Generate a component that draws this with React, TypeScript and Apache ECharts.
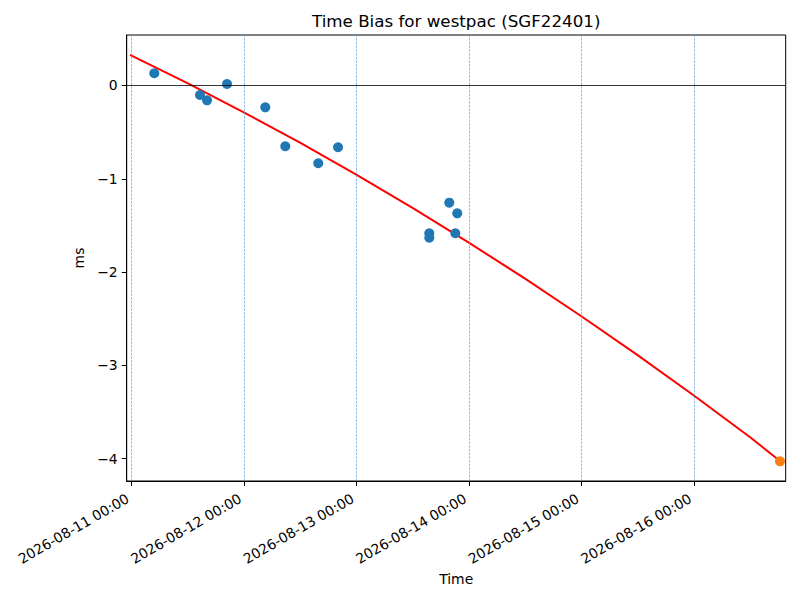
import React, { useEffect, useRef } from "react";
import * as echarts from "echarts";

// Measured time bias samples (UTC)
const sampleTimes = [
  "2026-08-11T04:49:00Z",
  "2026-08-11T14:34:00Z",
  "2026-08-11T16:04:00Z",
  "2026-08-11T20:20:00Z",
  "2026-08-12T04:30:00Z",
  "2026-08-12T08:46:00Z",
  "2026-08-12T15:48:00Z",
  "2026-08-12T20:01:00Z",
  "2026-08-13T15:29:00Z",
  "2026-08-13T15:29:00Z",
  "2026-08-13T19:45:00Z",
  "2026-08-13T21:27:00Z",
  "2026-08-13T21:02:00Z",
];
const sampleValues = [
  0.131, -0.102, -0.159, 0.016, -0.234, -0.651, -0.834, -0.662, -1.584, -1.631,
  -1.256, -1.37, -1.584,
];

// Predicted point
const predictTimes = ["2026-08-16T18:18:00Z"];
const predictValues = [-4.028];

// Fitted trend curve
const fitTimes = [
  "2026-08-10T23:38:00Z",
  "2026-08-11T12:00:00Z",
  "2026-08-12T00:00:00Z",
  "2026-08-12T12:00:00Z",
  "2026-08-13T00:00:00Z",
  "2026-08-13T12:00:00Z",
  "2026-08-14T00:00:00Z",
  "2026-08-14T12:00:00Z",
  "2026-08-15T00:00:00Z",
  "2026-08-15T12:00:00Z",
  "2026-08-16T00:00:00Z",
  "2026-08-16T12:00:00Z",
  "2026-08-16T18:18:00Z",
];
const fitValues = [
  0.327, 0.022, -0.29, -0.616, -0.958, -1.315, -1.687, -2.073, -2.476, -2.893,
  -3.326, -3.773, -4.025,
];

// Axis ticks
const xTickTimes = [
  "2026-08-11T00:00:00Z",
  "2026-08-12T00:00:00Z",
  "2026-08-13T00:00:00Z",
  "2026-08-14T00:00:00Z",
  "2026-08-15T00:00:00Z",
  "2026-08-16T00:00:00Z",
];
const yTicks = [-4, -3, -2, -1, 0];
const xMinTime = "2026-08-10T22:56:00Z";
const xMaxTime = "2026-08-16T19:31:00Z";
const yMin = -4.239;
const yMax = 0.541;

const TITLE = "Time Bias for westpac (SGF22401)";
const FONT = "DejaVu Sans";

const pad2 = (n: number) => (n < 10 ? "0" + n : String(n));
const fmtTime = (v: number) => {
  const d = new Date(v);
  return (
    d.getUTCFullYear() +
    "-" +
    pad2(d.getUTCMonth() + 1) +
    "-" +
    pad2(d.getUTCDate()) +
    " " +
    pad2(d.getUTCHours()) +
    ":" +
    pad2(d.getUTCMinutes())
  );
};

export default function App() {
  const ref = useRef<HTMLDivElement>(null);

  useEffect(() => {
    if (!ref.current) return;
    const chart = echarts.init(ref.current, null, { renderer: "svg" });
    const xTicks = xTickTimes.map((t) => Date.parse(t));
    const left = 126.7;
    const right = 785.7;

    chart.setOption({
      animation: false,
      textStyle: { fontFamily: FONT },
      graphic: [
        {
          type: "text",
          x: (left + right) / 2,
          y: 21,
          style: {
            text: TITLE,
            fontSize: 16.7,
            fontFamily: FONT,
            fill: "#000",
            align: "center",
            verticalAlign: "middle",
          },
        },
      ],
      grid: {
        left: left,
        right: 800 - right,
        top: 35,
        bottom: 119,
        show: true,
        borderColor: "#000",
        borderWidth: 1,
        backgroundColor: "transparent",
      },
      xAxis: {
        type: "value",
        min: Date.parse(xMinTime),
        max: Date.parse(xMaxTime),
        name: "Time",
        nameLocation: "middle",
        nameGap: 86,
        nameTextStyle: { fontSize: 13.9, color: "#000", fontFamily: FONT },
        axisLine: { show: true, onZero: false, lineStyle: { color: "#000", width: 1 } },
        axisTick: {
          show: true,
          length: 5,
          customValues: xTicks,
          lineStyle: { color: "#000", width: 1 },
        },
        axisLabel: {
          customValues: xTicks,
          rotate: 30,
          margin: 14,
          padding: [0, 4.6, 0, 0],
          fontSize: 13.9,
          color: "#000",
          fontFamily: FONT,
          formatter: (v: number) => fmtTime(v),
        },
        splitLine: { show: false },
      },
      yAxis: {
        type: "value",
        min: yMin,
        max: yMax,
        name: "ms",
        nameLocation: "middle",
        nameGap: 35,
        nameRotate: 90,
        nameTextStyle: { fontSize: 13.9, color: "#000", fontFamily: FONT },
        axisLine: { show: true, onZero: false, lineStyle: { color: "#000", width: 1 } },
        axisTick: {
          show: true,
          length: 5,
          customValues: yTicks,
          lineStyle: { color: "#000", width: 1 },
        },
        axisLabel: {
          customValues: yTicks,
          margin: 9,
          fontSize: 13.9,
          color: "#000",
          fontFamily: FONT,
          formatter: (v: number) => String(v).replace("-", "\u2212"),
        },
        splitLine: { show: false },
      },
      series: [
        {
          type: "line",
          name: "fit",
          data: fitTimes.map((t, i) => [Date.parse(t), fitValues[i]]),
          showSymbol: false,
          smooth: false,
          lineStyle: { color: "#ff0000", width: 2 },
          z: 3,
          silent: true,
          markLine: {
            silent: true,
            symbol: ["none", "none"],
            label: { show: false },
            animation: false,
            data: [
              ...xTicks.map((t) => ({
                xAxis: t,
                lineStyle: { color: "#5b9fd6", width: 0.7, type: [2.5, 1.2], opacity: 1 },
              })),
              {
                yAxis: 0,
                lineStyle: { color: "#000", width: 0.8, type: "solid" },
              },
            ],
          },
        },
        {
          type: "scatter",
          name: "samples",
          data: sampleTimes.map((t, i) => [Date.parse(t), sampleValues[i]]),
          symbol: "circle",
          symbolSize: 10,
          itemStyle: { color: "#1f77b4", opacity: 1 },
          z: 4,
        },
        {
          type: "scatter",
          name: "prediction",
          data: predictTimes.map((t, i) => [Date.parse(t), predictValues[i]]),
          symbol: "circle",
          symbolSize: 10,
          itemStyle: { color: "#ff7f0e", opacity: 1 },
          z: 4,
        },
      ],
    });

    return () => {
      chart.dispose();
    };
  }, []);

  return (
    <div
      ref={ref}
      style={{ position: "fixed", left: 0, top: 0, width: 800, height: 600, background: "#fff" }}
    />
  );
}
